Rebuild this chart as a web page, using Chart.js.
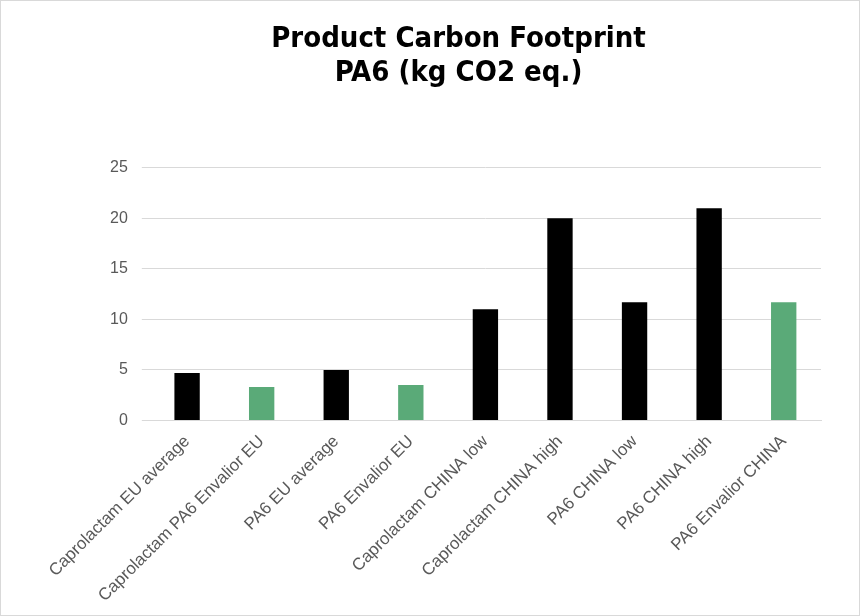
<!DOCTYPE html>
<html><head><meta charset="utf-8">
<script src="https://cdn.jsdelivr.net/npm/chart.js@4"></script>
<style>
html,body{margin:0;padding:0;background:#fff;}
#wrap{position:absolute;left:0;top:0;width:858px;height:614px;border:1px solid #d9d9d9;}
</style></head><body>
<div id="wrap"><canvas id="c" width="858" height="614"></canvas></div>
<script>
const categories = ["Caprolactam EU average","Caprolactam PA6 Envalior EU","PA6 EU average","PA6 Envalior EU","Caprolactam CHINA low","Caprolactam CHINA high","PA6 CHINA low","PA6 CHINA high","PA6 Envalior CHINA"];
const values = [4.7, 3.3, 5.0, 3.5, 11.0, 20.0, 11.7, 21.0, 11.7];
const barColors = ["#000000","#5aaa78","#000000","#5aaa78","#000000","#000000","#000000","#000000","#5aaa78"];
const titleLines = ["Product Carbon Footprint","PA6 (kg CO2 eq.)"];
new Chart(document.getElementById('c'), {
  type: 'bar',
  data: { labels: categories, datasets: [{ data: values, backgroundColor: barColors, barPercentage: 0.34, categoryPercentage: 1 }] },
  options: {
    responsive: false, animation: false,
    layout: { padding: { left: 95, right: 38, top: 22, bottom: 6 } },
    plugins: {
      legend: { display: false }, tooltip: { enabled: false },
      title: { display: true, text: titleLines, color: '#000', font: { family: 'DejaVu Sans Condensed', size: 29, weight: 'bold', lineHeight: 1.15 }, padding: { bottom: 78 } }
    },
    scales: {
      x: { grid: { display: false }, border: { color: '#d9d9d9' },
           ticks: { color: '#595959', font: { family: 'Liberation Sans', size: 17 }, maxRotation: 45, minRotation: 45 } },
      y: { min: 0, max: 25, grid: { color: '#d9d9d9' }, border: { display: false },
           ticks: { stepSize: 5, color: '#595959', padding: 14, font: { family: 'Liberation Sans', size: 16 } } }
    }
  }
});
</script></body></html>
